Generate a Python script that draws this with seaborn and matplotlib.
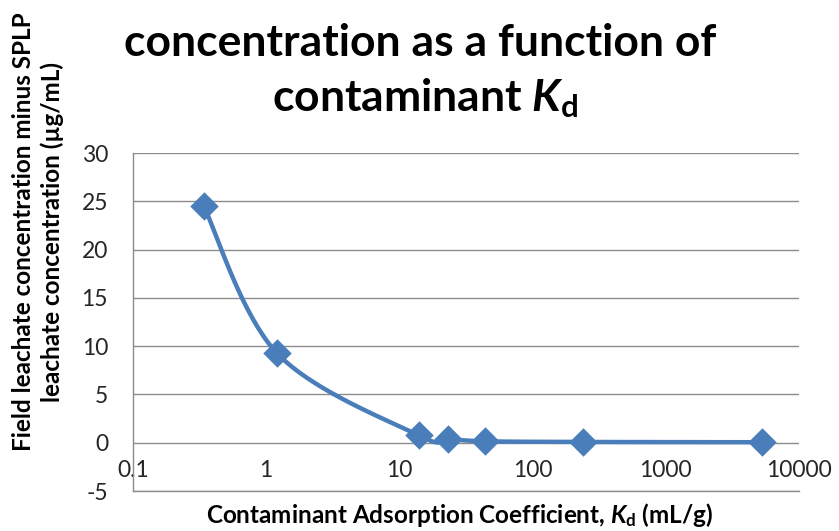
import numpy as np
import matplotlib
matplotlib.use('Agg')
import matplotlib.pyplot as plt
import pandas as pd
import seaborn as sns
from matplotlib.ticker import FixedLocator, NullLocator

# Data
kd = [0.34, 1.2, 14, 23, 44, 240, 5300]
conc_diff = [24.5, 9.3, 0.75, 0.4, 0.15, 0.08, 0.05]
x_ticks = [0.1, 1, 10, 100, 1000, 10000]
x_tick_labels = ['0.1', '1', '10', '100', '1000', '10000']
y_ticks = [-5, 0, 5, 10, 15, 20, 25, 30]

sns.set_style('white')
plt.rcParams['font.family'] = ['Lato', 'DejaVu Sans']
plt.rcParams['axes.unicode_minus'] = False
plt.rcParams['mathtext.fontset'] = 'custom'
plt.rcParams['mathtext.rm'] = 'Lato:bold'
plt.rcParams['mathtext.bf'] = 'Lato:bold'
plt.rcParams['mathtext.it'] = 'Lato:italic:bold'

blue = '#4a7ebb'
grid_gray = '#8c8c8c'
text_col = '#262626'


def smooth_curve(xs, ys, n=40):
    # Excel-style smoothed line: cubic Bezier with Catmull-Rom control points,
    # built in log-x space so it looks right on the log axis
    px = np.log10(np.array(xs, dtype=float))
    py = np.array(ys, dtype=float)
    pts = np.column_stack([px, py])
    out = []
    t = np.linspace(0, 1, n)[:, None]
    for i in range(len(pts) - 1):
        p0 = pts[max(i - 1, 0)]
        p1 = pts[i]
        p2 = pts[i + 1]
        p3 = pts[min(i + 2, len(pts) - 1)]
        c1 = p1 + (p2 - p0) / 6
        c2 = p2 - (p3 - p1) / 6
        seg = ((1 - t) ** 3) * p1 + 3 * ((1 - t) ** 2) * t * c1 + 3 * (1 - t) * t ** 2 * c2 + t ** 3 * p2
        out.append(seg if i == 0 else seg[1:])
    out = np.vstack(out)
    return pd.DataFrame({'kd': 10 ** out[:, 0], 'conc': out[:, 1]})


df = pd.DataFrame({'kd': kd, 'conc': conc_diff})
curve = smooth_curve(kd, conc_diff)

fig = plt.figure(figsize=(8.39, 5.31), dpi=100)
ax = fig.add_axes([133 / 839, 1 - 491 / 531, (799 - 133) / 839, (491 - 153) / 531])
ax.set_xscale('log')

sns.lineplot(data=curve, x='kd', y='conc', sort=False, color=blue, linewidth=3.2, ax=ax)
sns.scatterplot(data=df, x='kd', y='conc', marker='D', s=210, color=blue,
                edgecolor=blue, linewidth=0, ax=ax, zorder=5)

ax.set_xlim(0.1, 10000)
ax.set_ylim(-5, 30)
ax.xaxis.set_major_locator(FixedLocator(x_ticks))
ax.xaxis.set_minor_locator(NullLocator())
ax.set_xticklabels(x_tick_labels)
ax.set_yticks(y_ticks)
ax.tick_params(axis='x', length=0, pad=-22, labelsize=16.5, labelcolor=text_col)
ax.tick_params(axis='y', length=0, pad=18, labelsize=16.5, labelcolor=text_col)

ax.grid(axis='y', color=grid_gray, linewidth=1)
ax.grid(axis='x', visible=False)
for side in ['top', 'right']:
    ax.spines[side].set_visible(False)
for side in ['left', 'bottom']:
    ax.spines[side].set_color(grid_gray)
    ax.spines[side].set_linewidth(1)
ax.set_xlabel('')
ax.set_ylabel('')

# Title (sits tight against the top edge, as in the original)
fig.text(420 / 839, 1 - 56 / 531, 'concentration as a function of', ha='center', va='baseline',
         fontsize=32, fontweight='bold', color='black')
fig.text(425 / 839, 1 - 111 / 531, r'contaminant $K_{\mathrm{d}}$', ha='center', va='baseline',
         fontsize=32, fontweight='bold', color='black')

fig.text(38 / 839, 1 - 232 / 531,
         'Field leachate concentration minus SPLP\nleachate concentration (µg/mL)',
         rotation=90, ha='center', va='center', multialignment='center',
         fontsize=17.5, fontweight='bold', color='black', linespacing=1.25)

fig.text(460 / 839, 1 - 515 / 531,
         r'Contaminant Adsorption Coefficient, $K_{\mathrm{d}}$ (mL/g)',
         ha='center', va='center', fontsize=17.5, fontweight='bold', color='black')

fig.savefig('out.png', dpi=100)
